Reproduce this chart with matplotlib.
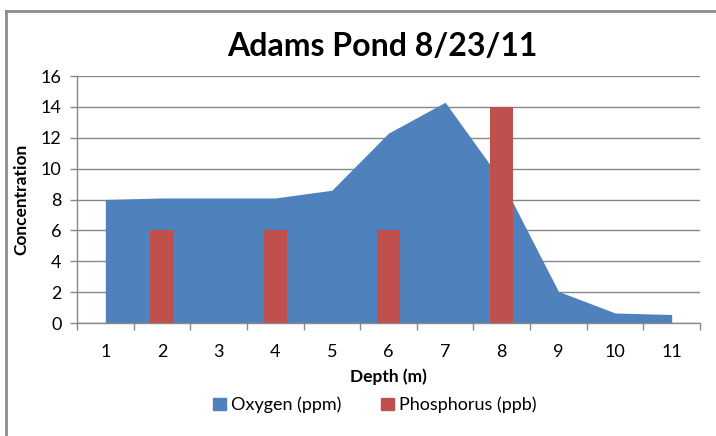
import matplotlib
matplotlib.use("Agg")
import matplotlib.pyplot as plt
from matplotlib.lines import Line2D
from matplotlib.patches import Patch

plt.rcParams['font.family'] = ['Lato', 'DejaVu Sans']

depth = [1, 2, 3, 4, 5, 6, 7, 8, 9, 10, 11]
oxygen = [8.0, 8.1, 8.1, 8.1, 8.6, 12.3, 14.3, 9.2, 2.05, 0.65, 0.55]
phos_depth = [2, 4, 6, 8]
phosphorus = [6, 6, 6, 14]

blue = '#4F81BD'
red = '#C0504D'
grid_c = '#888888'

fig = plt.figure(figsize=(7.16, 4.36), dpi=100)
ax = fig.add_axes([77/716, 113/436, 623/716, 247/436])

ax.fill_between(depth, oxygen, 0, color=blue, linewidth=0, zorder=2)
ax.bar(phos_depth, phosphorus, width=0.41, color=red, linewidth=0, zorder=3)

ax.set_xlim(0.5, 11.5)
ax.set_ylim(0, 16)
ax.set_yticks(range(0, 17, 2))
ax.set_xticks(depth)
ax.set_xticks([d + 0.5 for d in range(0, 12)], minor=True)
ax.tick_params(axis='x', which='major', length=0, pad=15, labelsize=13)
ax.tick_params(axis='x', which='minor', length=5, color=grid_c, width=1)
ax.tick_params(axis='y', length=5, color=grid_c, width=1, labelsize=13, pad=6)
ax.yaxis.grid(True, color=grid_c, linewidth=1, zorder=0)
ax.set_axisbelow(True)
for s in ['top', 'right']:
    ax.spines[s].set_visible(False)
for s in ['left', 'bottom']:
    ax.spines[s].set_color(grid_c)
    ax.spines[s].set_linewidth(1)

ax.set_xlabel('Depth (m)', fontsize=12.5, fontweight='bold', labelpad=6)
ax.set_ylabel('Concentration', fontsize=12.5, fontweight='bold', labelpad=8)
fig.text(382/716, 1 - 46/436, 'Adams Pond 8/23/11', fontsize=23, fontweight='bold',
         ha='center', va='center')

handles = [Patch(color=blue, label='Oxygen (ppm)'), Patch(color=red, label='Phosphorus (ppb)')]
fig.legend(handles=handles, loc='center', bbox_to_anchor=(375/716, 1 - 405/436), ncol=2,
           frameon=False, fontsize=13, handlelength=0.7, handleheight=0.7,
           handletextpad=0.3, columnspacing=2.2)

# chart frame
fig.add_artist(Line2D([6/716, 6/716], [0, 1 - 11/436], color='#8c8c8c', linewidth=2))
fig.add_artist(Line2D([6/716, 1], [1 - 11/436, 1 - 11/436], color='#8c8c8c', linewidth=2))

fig.savefig('out.png', dpi=100)
